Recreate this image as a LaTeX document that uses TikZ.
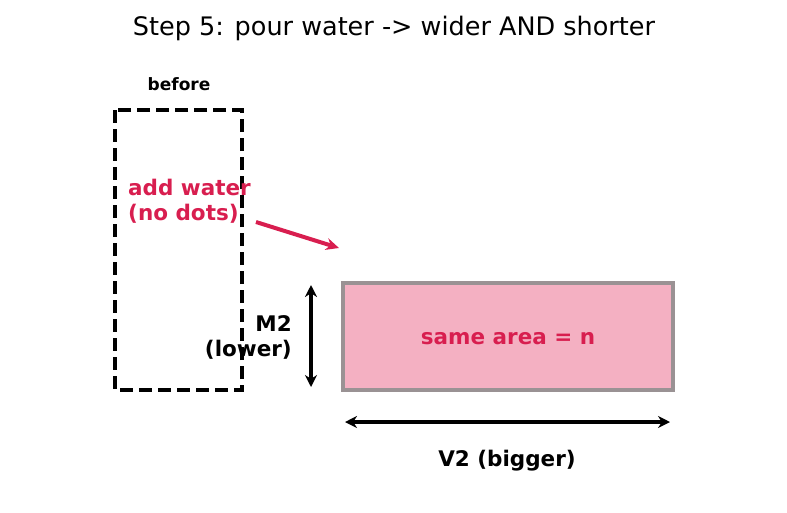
\documentclass[tikz,border=0pt]{standalone}
\usepackage{fontspec}
\setmainfont{DejaVu Sans}
\usetikzlibrary{arrows.meta}
\definecolor{crimsonred}{HTML}{D81E4F}
\definecolor{areapink}{HTML}{F4B0C2}
\definecolor{edgegray}{HTML}{9A9294}

\begin{document}
\begin{tikzpicture}
    [   x=1pt, y=-1pt
    ,   lbl/.style=
        {   font=\bfseries\fontsize{21.5}{25}\selectfont
        ,   inner sep=0pt
        }
    ,   note/.style=
        {   lbl
        ,   text=crimsonred
        }
    ,   dim/.style=
        {   line width=4pt
        ,   {Stealth[length=12pt,width=12pt]}-{Stealth[length=12pt,width=12pt]}
        }
    ]
    \useasboundingbox (0,0) rectangle (787,512);
    \node[font=\fontsize{25.5}{30}\selectfont] (title) at (394,28)
        {Step 5: pour water -> wider AND shorter};
    % old column
    \node[lbl, font=\bfseries\fontsize{17}{20}\selectfont] (before) at (179,84) {before};
    \draw[line width=4pt, dash pattern=on 13pt off 6pt]
        (115,110) rectangle (242,390);
    \node[note, align=left, anchor=west] (water) at (128,201)
        {add water\\(no dots)};
    % new column
    \node[draw=edgegray, line width=4pt, fill=areapink, minimum width=330pt,
          minimum height=107pt, inner sep=0pt] (area) at (508,336.5) {};
    \node[note] (same) at ([yshift=-2pt]area.center) {same area = n};
    \coordinate (tail) at (256,222);
    \coordinate (head) at (339,248);
    \draw[line width=4pt, crimsonred, -{Stealth[length=13pt,width=12pt]}]
        (tail) -- (head);
    % dimensions
    \coordinate (mtop) at (311,285);
    \coordinate (mbot) at (311,387);
    \draw[dim] (mtop) -- (mbot);
    \node[lbl, align=right, anchor=east] (msize) at (292,337) {M2\\(lower)};
    \coordinate (vleft) at (345,422);
    \coordinate (vright) at (670,422);
    \draw[dim] (vleft) -- (vright);
    \node[lbl] (vsize) at (507,461) {V2 (bigger)};
\end{tikzpicture}
\end{document}
